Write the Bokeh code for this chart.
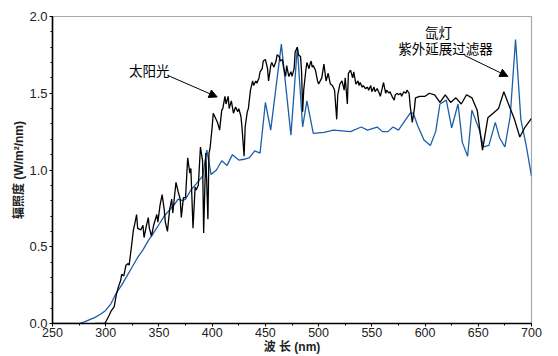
from bokeh.plotting import figure
from bokeh.models import (Range1d, SingleIntervalTicker, PrintfTickFormatter,
                          Label, Arrow, NormalHead)
from bokeh.embed import file_html
from bokeh.resources import INLINE

# Sunlight spectrum (nm, W/m^2/nm)
sun_nm = [290, 295, 299, 300, 303, 305, 308, 310, 312, 314, 315, 317, 319, 321, 322,
          324, 326, 327, 329, 330, 333, 335, 336, 338, 340, 341, 343, 345, 348, 349,
          351, 353, 355, 356, 358, 360, 362, 363, 366, 368, 370, 371, 373, 375, 377,
          379, 380, 382, 384, 385, 387, 389, 391, 392, 394, 396, 397, 398, 400, 401,
          403, 405, 407, 409, 410, 412, 413, 415, 416, 418, 420, 422, 424, 425, 427,
          428, 430, 431, 433, 434, 436, 438, 439, 441, 442, 444, 445, 447, 448, 450,
          452, 453, 455, 456, 458, 460, 461, 463, 464, 466, 467, 469, 470, 472, 474,
          475, 477, 478, 480, 481, 483, 484, 485, 486, 488, 489, 491, 492, 493, 494,
          495, 497, 499, 500, 503, 505, 507, 509, 511, 513, 515, 517, 518, 520, 522,
          524, 525, 527, 528, 530, 532, 533, 535, 537, 538, 539, 541, 542, 544, 546,
          547, 549, 550, 552, 553, 555, 557, 558, 560, 561, 563, 564, 566, 567, 569,
          571, 572, 574, 575, 577, 578, 580, 582, 583, 585, 586, 588, 590, 591, 595,
          600, 604, 609, 614, 619, 624, 629, 634, 639, 644, 649, 654, 659, 664, 669,
          674, 680, 684, 689, 694, 700]
sun_irr = [0.0, 0.0, 0.0, 0.01, 0.05, 0.08, 0.11, 0.19, 0.24, 0.28, 0.32, 0.31, 0.38, 0.39, 0.38,
           0.49, 0.61, 0.64, 0.71, 0.62, 0.61, 0.64, 0.56, 0.63, 0.69, 0.62, 0.57, 0.64, 0.71, 0.66,
           0.77, 0.84, 0.74, 0.66, 0.60, 0.74, 0.81, 0.72, 0.92, 0.86, 0.81, 0.69, 0.82, 0.82, 1.08,
           0.98, 1.01, 0.62, 0.89, 0.87, 0.90, 1.15, 1.06, 0.59, 1.11, 0.68, 1.11, 1.14, 1.28, 1.37,
           1.34, 1.31, 1.26, 1.39, 1.40, 1.48, 1.43, 1.48, 1.40, 1.45, 1.37, 1.41, 1.38, 1.40, 1.35,
           1.28, 1.09, 1.28, 1.38, 1.40, 1.52, 1.58, 1.55, 1.58, 1.565, 1.60, 1.64, 1.66, 1.71, 1.72,
           1.66, 1.58, 1.68, 1.70, 1.67, 1.71, 1.75, 1.74, 1.71, 1.72, 1.67, 1.61, 1.68, 1.61, 1.64,
           1.61, 1.66, 1.77, 1.80, 1.75, 1.74, 1.64, 1.38, 1.52, 1.65, 1.70, 1.66, 1.69, 1.71, 1.67,
           1.68, 1.65, 1.58, 1.56, 1.60, 1.69, 1.58, 1.63, 1.56, 1.55, 1.52, 1.33, 1.49, 1.56, 1.58,
           1.52, 1.60, 1.43, 1.63, 1.65, 1.60, 1.64, 1.56, 1.58, 1.55, 1.57, 1.54, 1.55, 1.53, 1.54,
           1.52, 1.55, 1.51, 1.54, 1.51, 1.53, 1.50, 1.48, 1.54, 1.57, 1.50, 1.52, 1.50, 1.51, 1.48,
           1.455, 1.49, 1.50, 1.49, 1.50, 1.48, 1.51, 1.50, 1.52, 1.50, 1.42, 1.31, 1.40, 1.47, 1.48,
           1.48, 1.50, 1.49, 1.44, 1.49, 1.44, 1.47, 1.43, 1.49, 1.47, 1.39, 1.13, 1.34, 1.37, 1.40,
           1.51, 1.40, 1.33, 1.215, 1.28, 1.336]

# Xenon lamp with extended-UV filter (nm, W/m^2/nm)
xe_nm = [250, 260, 270, 275, 280, 285, 290, 295, 300, 305, 310, 315, 320, 325, 330,
         335, 340, 345, 350, 355, 360, 365, 368, 372, 375, 380, 385, 391, 395, 399,
         404, 409, 414, 419, 425, 430, 435, 440, 445, 450, 455, 465, 474, 480, 485,
         489, 495, 505, 514, 530, 540, 546, 555, 560, 565, 570, 575, 586, 589, 593,
         599, 605, 610, 614, 620, 625, 631, 635, 640, 644, 651, 655, 660, 666, 670,
         675, 680, 685, 690, 695, 700]
xe_irr = [0.0, 0.0, 0.0, 0.0, 0.01, 0.025, 0.04, 0.06, 0.085, 0.13, 0.2, 0.25, 0.31, 0.37, 0.43,
          0.48, 0.54, 0.59, 0.645, 0.70, 0.74, 0.78, 0.81, 0.80, 0.81, 0.87, 0.91, 0.96, 1.13, 0.97,
          1.0, 1.06, 1.03, 1.10, 1.065, 1.07, 1.08, 1.125, 1.11, 1.44, 1.26, 1.82, 1.227, 1.80, 1.28,
          1.45, 1.238, 1.245, 1.26, 1.25, 1.28, 1.26, 1.28, 1.25, 1.25, 1.28, 1.26, 1.37, 1.37, 1.29,
          1.195, 1.16, 1.25, 1.43, 1.455, 1.275, 1.43, 1.18, 1.09, 1.39, 1.26, 1.15, 1.16, 1.31, 1.21,
          1.15, 1.35, 1.85, 1.33, 1.16, 0.96]

LATIN = "Liberation Sans"
CJK = "Noto Sans CJK SC"

p = figure(width=558, height=356, output_backend="svg", toolbar_location=None,
           x_range=Range1d(250, 700), y_range=Range1d(0, 2.0))
p.min_border_left = 52
p.min_border_right = 27
p.min_border_top = 16
p.min_border_bottom = 32
p.background_fill_color = "white"
p.border_fill_color = "white"
p.outline_line_color = "#a8a8a8"
p.outline_line_width = 1.2
p.xgrid.visible = False
p.ygrid.visible = False

p.xaxis.ticker = SingleIntervalTicker(interval=50, num_minor_ticks=2)
p.yaxis.ticker = SingleIntervalTicker(interval=0.5, num_minor_ticks=5)
p.yaxis.formatter = PrintfTickFormatter(format="%.1f")
for ax in (p.xaxis[0], p.yaxis[0]):
    ax.axis_line_color = "black"
    ax.axis_line_width = 1.6
    ax.major_tick_line_color = "black"
    ax.minor_tick_line_color = "black"
    ax.major_tick_in = 0
    ax.major_tick_out = 3
    ax.minor_tick_in = 0
    ax.minor_tick_out = 2
    ax.major_label_text_font = LATIN
    ax.major_label_text_color = "#222222"
    ax.axis_label_text_font = LATIN + ", " + CJK
    ax.axis_label_text_font_style = "bold"
    ax.axis_label_text_color = "#222222"

p.yaxis.major_label_text_font_size = "13px"
p.yaxis.major_label_standoff = 2
p.yaxis.axis_label = "辐照度 (W/m²/nm)"
p.yaxis.axis_label_text_font_size = "12px"
p.yaxis.axis_label_standoff = 0

p.xaxis.major_label_text_font_size = "12.5px"
p.xaxis.major_label_standoff = 1
p.xaxis.axis_label = "波 长 (nm)"
p.xaxis.axis_label_text_font_size = "12px"
p.xaxis.axis_label_standoff = 0

# spectra
p.line(xe_nm, xe_irr, line_color="#1c5ea8", line_width=1.3)
p.line(sun_nm, sun_irr, line_color="black", line_width=1.3)

# callouts
p.add_layout(Label(x=341, y=1.649, text="太阳光", text_align="center",
                   text_baseline="middle", text_font=CJK, text_font_size="13.5px",
                   text_color="black"))
p.add_layout(Arrow(end=NormalHead(size=8, fill_color="black", line_color="black"),
                   x_start=358, y_start=1.617, x_end=404.7, y_end=1.476,
                   line_color="black", line_width=1))
p.add_layout(Label(x=612.6, y=1.896, text="氙灯", text_align="center",
                   text_baseline="middle", text_font=CJK, text_font_size="13.5px",
                   text_color="black"))
p.add_layout(Label(x=619.2, y=1.792, text="紫外延展过滤器", text_align="center",
                   text_baseline="middle", text_font=CJK, text_font_size="13.5px",
                   text_color="black"))
p.add_layout(Arrow(end=NormalHead(size=8, fill_color="black", line_color="black"),
                   x_start=637, y_start=1.747, x_end=677.8, y_end=1.61,
                   line_color="black", line_width=1))

open("out.html", "w").write(file_html(p, INLINE))
